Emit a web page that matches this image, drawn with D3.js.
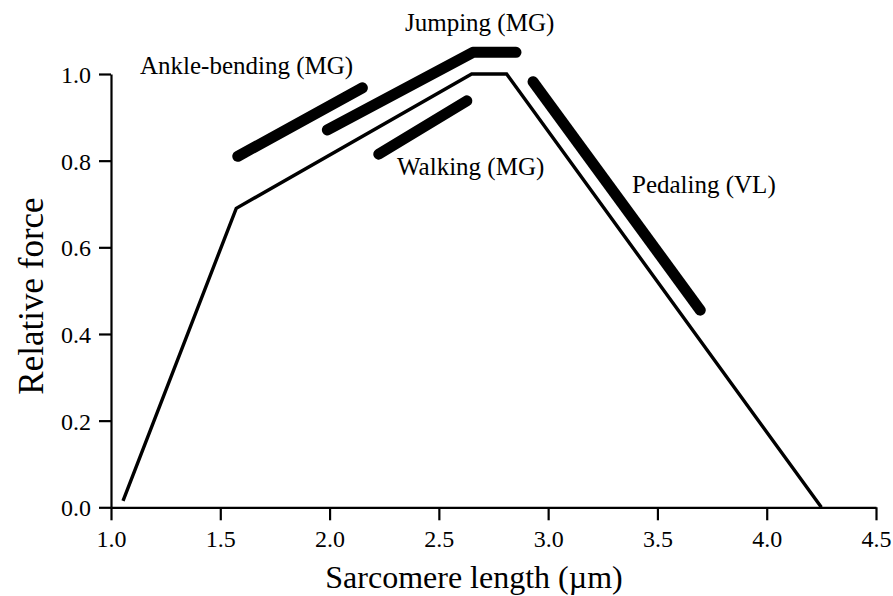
<html><head>
<title>Force-length relation</title>
<script src="https://d3js.org/d3.v7.min.js"></script>
<style>
  body { margin: 0; background: #fff; }
  text { font-family: "Liberation Serif", "Times New Roman", Times, serif; fill: #000; }
</style>
</head>
<body>
<div id="container" style="width: 893px; height: 596px;"></div>
<script>

// force-length curve (thin line)
const curveX = [1.055, 1.573, 2.65, 2.81, 4.25];
const curveY = [0.015, 0.69, 1.0, 1.0, 0.0];

// operating ranges (thick bars)
const ankleX = [1.58, 2.15];
const ankleY = [0.81, 0.968];
const jumpX = [1.99, 2.656, 2.853];
const jumpY = [0.871, 1.05, 1.05];
const walkX = [2.225, 2.628];
const walkY = [0.815, 0.938];
const pedalX = [2.931, 3.696];
const pedalY = [0.982, 0.455];

const rangeNames = ["Ankle-bending (MG)", "Jumping (MG)", "Walking (MG)", "Pedaling (VL)"];

const xTicks = [1.0, 1.5, 2.0, 2.5, 3.0, 3.5, 4.0, 4.5];
const yTicks = [0.0, 0.2, 0.4, 0.6, 0.8, 1.0];

const width = 893, height = 596;
const svg = d3.select("#container").append("svg")
              .attr("width", width).attr("height", height);

const xScale = d3.scaleLinear().domain([1.0, 4.5]).range([111, 876]);
const yScale = d3.scaleLinear().domain([0, 1.0]).range([507.3, 74]);

// axes
const xAxis = d3.axisBottom(xScale).tickValues(xTicks).tickFormat(d3.format(".1f"))
                .tickSizeInner(13).tickSizeOuter(0).tickPadding(10);
const yAxis = d3.axisLeft(yScale).tickValues(yTicks).tickFormat(d3.format(".1f"))
                .tickSizeInner(12).tickSizeOuter(0).tickPadding(8);

const gx = svg.append("g").attr("transform", "translate(0," + yScale(0) + ")").call(xAxis);
const gy = svg.append("g").attr("transform", "translate(" + xScale(1.0) + ",0)").call(yAxis);
[gx, gy].forEach(g => {
  g.select(".domain").attr("stroke", "#000").attr("stroke-width", 2.2);
  g.selectAll(".tick line").attr("stroke", "#000").attr("stroke-width", 2.2);
  g.selectAll(".tick text")
   .style("font-family", "'Liberation Serif', 'Times New Roman', serif")
   .style("font-size", "24px")
   .attr("fill", "#000");
});
gy.selectAll(".tick text").attr("dy", "0.35em");

// axis titles
svg.append("text")
   .attr("x", 474).attr("y", 588)
   .attr("text-anchor", "middle")
   .style("font-size", "32px")
   .text("Sarcomere length (\u00b5m)");
svg.append("text")
   .attr("transform", "translate(43,296) rotate(-90)")
   .attr("text-anchor", "middle")
   .style("font-size", "35px")
   .text("Relative force");

const line = d3.line().x(d => xScale(d[0])).y(d => yScale(d[1]));

// thin curve
svg.append("path")
   .datum(d3.zip(curveX, curveY))
   .attr("d", line)
   .attr("fill", "none")
   .attr("stroke", "#000")
   .attr("stroke-width", 3.4)
   .attr("stroke-linejoin", "miter");

// thick operating ranges
const ranges = [d3.zip(ankleX, ankleY), d3.zip(jumpX, jumpY), d3.zip(walkX, walkY), d3.zip(pedalX, pedalY)];
svg.selectAll("path.range").data(ranges)
   .join("path").attr("class", "range")
   .attr("d", line)
   .attr("fill", "none")
   .attr("stroke", "#000")
   .attr("stroke-width", 11)
   .attr("stroke-linecap", "round")
   .attr("stroke-linejoin", "round");

// range labels
const labelPos = [[140, 74], [405, 31], [397, 175], [632, 193]];
svg.selectAll("text.rlabel").data(rangeNames)
   .join("text").attr("class", "rlabel")
   .attr("x", (d, i) => labelPos[i][0])
   .attr("y", (d, i) => labelPos[i][1])
   .style("font-size", "25px")
   .text(d => d);

</script>
</body>
</html>
